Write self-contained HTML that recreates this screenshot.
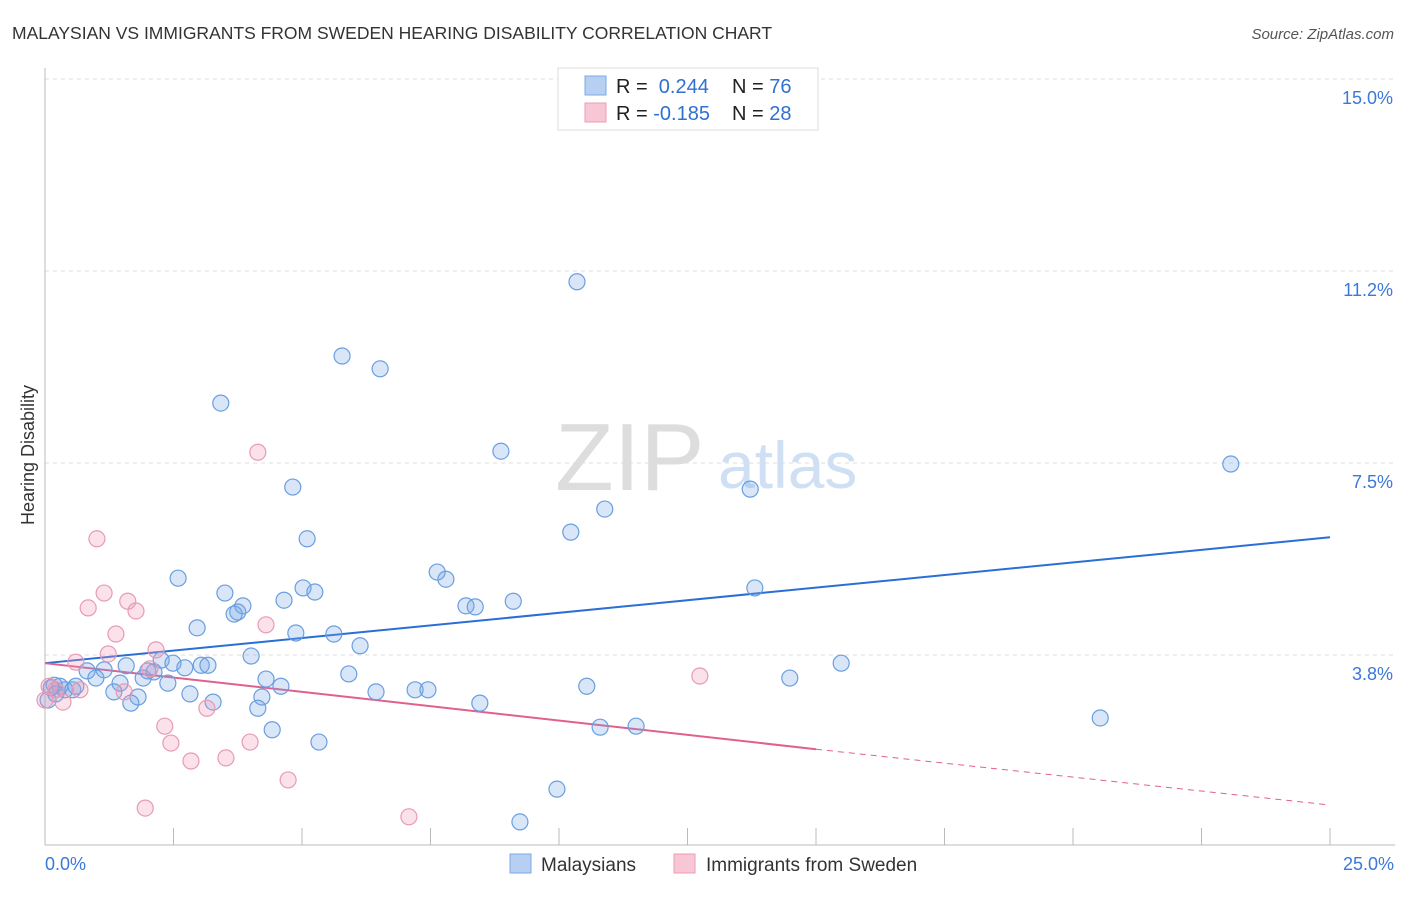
<!DOCTYPE html>
<html><head><meta charset="utf-8"><style>
body{margin:0;background:#fff;font-family:"Liberation Sans",sans-serif}
svg text{font-family:"Liberation Sans",sans-serif}
</style></head><body>
<svg id="c" width="1406" height="892">
<text x="12" y="39" font-size="17.5" fill="#333">MALAYSIAN VS IMMIGRANTS FROM SWEDEN HEARING DISABILITY CORRELATION CHART</text>
<text x="1394" y="39" font-size="15" fill="#555" text-anchor="end" font-style="italic">Source: ZipAtlas.com</text>
<text x="555" y="490" font-size="96" fill="#ddd" font-family="Liberation Serif">ZIP</text>
<text x="718" y="488" font-size="66" fill="#cfe0f5">atlas</text>
<text transform="translate(34,455) rotate(-90)" font-size="18" fill="#333" text-anchor="middle">Hearing Disability</text>
<g id="grid"></g><g id="ticks"></g><g id="lines"></g><g id="pts"></g>
<g>
<rect x="558" y="68" width="260" height="62" fill="#fff" stroke="#ddd"/>
<rect x="585" y="76" width="21" height="19" fill="#b7d0f2" stroke="#7ea9e4"/>
<rect x="585" y="103" width="21" height="19" fill="#f8c7d6" stroke="#ec9cb6"/>
<text x="616" y="93" font-size="20" fill="#222">R = <tspan fill="#3070d0">&#160;0.244</tspan><tspan x="732">N = </tspan><tspan fill="#3070d0">76</tspan></text>
<text x="616" y="120" font-size="20" fill="#222">R = <tspan fill="#3070d0">-0.185</tspan><tspan x="732">N = </tspan><tspan fill="#3070d0">28</tspan></text>
</g>
<g>
<rect x="510" y="854" width="21" height="19" fill="#b7d0f2" stroke="#7ea9e4"/>
<text x="541" y="871" font-size="19" fill="#333">Malaysians</text>
<rect x="674" y="854" width="21" height="19" fill="#f8c7d6" stroke="#ec9cb6"/>
<text x="706" y="871" font-size="19" fill="#333">Immigrants from Sweden</text>
</g>
</svg>
<script>
const yTicks=[15,11.25,7.5,3.75];
const yTickLabels=["15.0%","11.2%","7.5%","3.8%"];
const xTickVals=[0,2.5,5,7.5,10,12.5,15,17.5,20,22.5,25];
const blueX=[10.35,5.78,6.52,3.42,8.87,23.07,4.82,13.72,10.89,5.10,10.23,2.59,7.63,7.80,5.02,5.25,3.50,13.81,4.65,3.85,3.75,3.68,8.19,8.37,9.11,2.96,4.88,5.62,6.13,4.01,15.49,2.26,2.49,3.04,3.17,2.72,1.58,1.15,0.82,2.00,2.12,0.99,1.46,1.91,2.39,4.30,5.91,4.59,10.54,14.49,0.29,0.12,0.39,0.54,0.18,1.34,1.81,2.82,4.22,6.44,7.20,7.45,3.27,1.67,8.46,4.14,20.53,10.80,11.50,4.42,5.33,9.96,9.24,0.06,0.21,0.60];
const blueY=[11.04,9.59,9.34,8.67,7.73,7.48,7.03,6.99,6.60,6.02,6.15,5.25,5.37,5.23,5.06,4.98,4.96,5.06,4.82,4.71,4.59,4.55,4.71,4.69,4.80,4.28,4.18,4.16,3.93,3.73,3.59,3.65,3.59,3.55,3.55,3.50,3.54,3.46,3.44,3.44,3.42,3.30,3.20,3.30,3.20,3.28,3.38,3.14,3.14,3.30,3.14,3.11,3.07,3.07,3.16,3.03,2.93,2.99,2.93,3.03,3.07,3.07,2.83,2.81,2.81,2.71,2.52,2.34,2.36,2.29,2.05,1.13,0.49,2.87,2.99,3.14];
const pinkX=[4.14,1.01,1.15,0.84,1.61,1.77,1.38,4.30,2.16,1.23,0.60,2.04,12.74,0.08,0.21,0.35,0.68,1.54,3.15,2.33,2.45,3.99,2.84,3.52,4.73,1.95,7.08,0.00];
const pinkY=[7.71,6.02,4.96,4.67,4.80,4.61,4.16,4.34,3.85,3.77,3.61,3.48,3.34,3.14,3.07,2.83,3.07,3.03,2.71,2.36,2.03,2.05,1.68,1.74,1.31,0.76,0.59,2.87];
const blueTrend=[3.59,6.05];
const pinkTrend=[3.59,1.91,0.82];
const X=v=>45+v*51.4, Y=v=>79+(15-v)*51.2;
const NS="http://www.w3.org/2000/svg";
function mk(t,a,p){const e=document.createElementNS(NS,t);for(const k in a)e.setAttribute(k,a[k]);document.getElementById(p).appendChild(e);return e;}
yTicks.forEach((v,i)=>{
 const g=mk('line',{x1:45,x2:1395,y1:Y(v),y2:Y(v),stroke:'#ddd','stroke-dasharray':'4,4'},'grid');
 
 
 const t=mk('text',{x:1393,y:Y(v)+25,'font-size':18,fill:'#3b78d8','text-anchor':'end'},'ticks');t.textContent=yTickLabels[i];
 
 
});
let a=mk('line',{x1:45,x2:45,y1:68,y2:845,stroke:'#bbb'},'ticks');


a=mk('line',{x1:45,x2:1395,y1:845,y2:845,stroke:'#bbb'},'ticks');


xTickVals.forEach(v=>{const l=mk('line',{x1:X(v),x2:X(v),y1:828,y2:845,stroke:'#bbb'},'ticks');
 
 });
[[0,"0.0%","start",45],[25,"25.0%","end",1394]].forEach(d=>{const t=mk('text',{x:d[3],y:870,'font-size':18,fill:'#3b78d8','text-anchor':d[2]},'ticks');t.textContent=d[1];
 
 });
function pts(xs,ys,f,s,n){xs.forEach((x,i)=>{const c=mk('circle',{cx:X(x),cy:Y(ys[i]),r:8,fill:f,stroke:s,'stroke-width':1.2},'pts');
 
 });}
pts(blueX,blueY,'rgba(120,165,230,0.28)','#6a9ee0','malaysian-point');
pts(pinkX,pinkY,'rgba(240,150,180,0.28)','#e89ab5','sweden-point');
let l=mk('line',{x1:X(0),y1:Y(blueTrend[0]),x2:X(25),y2:Y(blueTrend[1]),stroke:'#2a6fd6','stroke-width':2},'lines');


l=mk('line',{x1:X(0),y1:Y(pinkTrend[0]),x2:X(15),y2:Y(pinkTrend[1]),stroke:'#e0608e','stroke-width':2},'lines');


l=mk('line',{x1:X(15),y1:Y(pinkTrend[1]),x2:X(25),y2:Y(pinkTrend[2]),stroke:'#e0608e','stroke-width':1,'stroke-dasharray':'6,5'},'lines');


</script>
</body></html>
